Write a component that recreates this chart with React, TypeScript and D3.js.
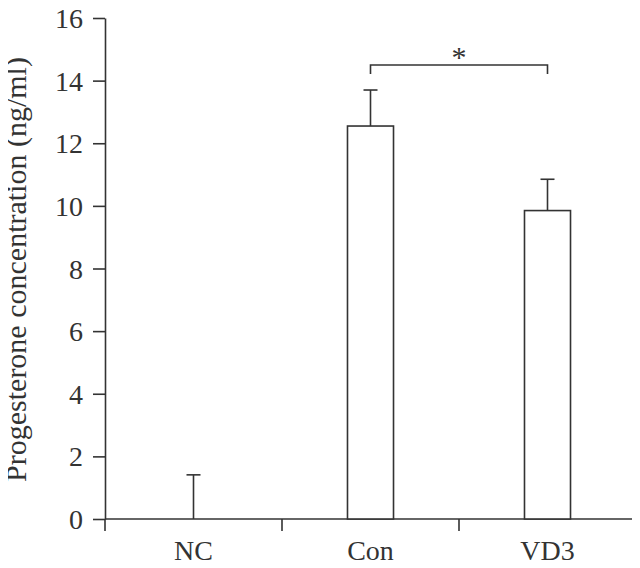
import React, { useEffect, useRef } from "react";
import * as d3 from "d3";

const groups = ["NC", "Con", "VD3"];
const means = [0, 12.55, 9.85];
const errors = [1.41, 1.15, 1.0];
const yTicks = [0, 2, 4, 6, 8, 10, 12, 14, 16];
const sigPair = ["Con", "VD3"];
const sigLevel = 14.5;
const sigMark = "*";

export default function App() {
  const ref = useRef<SVGSVGElement>(null);

  useEffect(() => {
    const width = 640;
    const height = 568;
    const margin = { top: 18, right: 4, bottom: 49, left: 105 };
    const ink = "#333";
    const font = "'Liberation Serif', 'Times New Roman', serif";

    const svg = d3.select(ref.current);
    svg.selectAll("*").remove();

    const x = d3
      .scaleBand()
      .domain(groups)
      .range([margin.left, width - margin.right])
      .paddingInner(0)
      .paddingOuter(0);

    const y = d3
      .scaleLinear()
      .domain([0, 16])
      .range([height - margin.bottom, margin.top]);

    const barW = x.bandwidth() * 0.26;
    const capW = 14;

    // y axis
    const yAxis = svg
      .append("g")
      .attr("transform", `translate(${margin.left},0)`)
      .call(d3.axisLeft(y).tickValues(yTicks).tickSize(12).tickPadding(10).tickSizeOuter(0));
    yAxis.select(".domain").attr("stroke", ink).attr("stroke-width", 1.6);
    yAxis.selectAll(".tick line").attr("stroke", ink).attr("stroke-width", 1.6);
    yAxis
      .selectAll(".tick text")
      .attr("fill", ink)
      .attr("dy", "0.34em")
      .style("font-family", font)
      .style("font-size", "28px");

    // x axis with boundary ticks
    const x0 = y(0);
    const bounds = [margin.left, ...groups.map((g) => (x(g) as number) + x.bandwidth())];
    const xAxis = svg.append("g");
    xAxis
      .append("line")
      .attr("x1", margin.left)
      .attr("x2", width - margin.right)
      .attr("y1", x0)
      .attr("y2", x0)
      .attr("stroke", ink)
      .attr("stroke-width", 1.6);
    xAxis
      .selectAll("line.bt")
      .data(bounds)
      .enter()
      .append("line")
      .attr("class", "bt")
      .attr("x1", (d) => d)
      .attr("x2", (d) => d)
      .attr("y1", x0)
      .attr("y2", x0 + 12)
      .attr("stroke", ink)
      .attr("stroke-width", 1.6);
    xAxis
      .selectAll("text")
      .data(groups)
      .enter()
      .append("text")
      .attr("x", (d) => (x(d) as number) + x.bandwidth() / 2)
      .attr("y", x0 + 41)
      .attr("text-anchor", "middle")
      .attr("fill", ink)
      .style("font-family", font)
      .style("font-size", "28px")
      .text((d) => d);

    // error bars
    const cx = (g: string) => (x(g) as number) + x.bandwidth() / 2;
    const eb = svg.append("g").attr("stroke", ink).attr("stroke-width", 1.6);
    groups.forEach((g, i) => {
      eb.append("line")
        .attr("x1", cx(g))
        .attr("x2", cx(g))
        .attr("y1", y(means[i]))
        .attr("y2", y(means[i] + errors[i]));
      eb.append("line")
        .attr("x1", cx(g) - capW / 2)
        .attr("x2", cx(g) + capW / 2)
        .attr("y1", y(means[i] + errors[i]))
        .attr("y2", y(means[i] + errors[i]));
    });

    // bars
    svg
      .append("g")
      .selectAll("rect")
      .data(groups)
      .enter()
      .append("rect")
      .attr("x", (d) => cx(d) - barW / 2)
      .attr("width", barW)
      .attr("y", (_, i) => y(means[i]))
      .attr("height", (_, i) => y(0) - y(means[i]))
      .attr("fill", "#fff")
      .attr("stroke", ink)
      .attr("stroke-width", 1.6);

    // significance bracket
    const bx1 = cx(sigPair[0]);
    const bx2 = cx(sigPair[1]);
    const by = y(sigLevel);
    svg
      .append("path")
      .attr("d", `M${bx1},${by + 9}V${by}H${bx2}V${by + 9}`)
      .attr("fill", "none")
      .attr("stroke", ink)
      .attr("stroke-width", 1.6);
    svg
      .append("text")
      .attr("x", (bx1 + bx2) / 2)
      .attr("y", by + 2)
      .attr("text-anchor", "middle")
      .attr("fill", ink)
      .style("font-family", font)
      .style("font-size", "30px")
      .text(sigMark);

    // y label
    svg
      .append("text")
      .attr("transform", `translate(26,${(y(0) + y(16)) / 2 + 1}) rotate(-90)`)
      .attr("text-anchor", "middle")
      .attr("fill", ink)
      .style("font-family", font)
      .style("font-size", "30px")
      .text("Progesterone concentration (ng/ml)");
  }, []);

  return <svg ref={ref} width={640} height={568} style={{ display: "block", margin: "-8px" }} />;
}
